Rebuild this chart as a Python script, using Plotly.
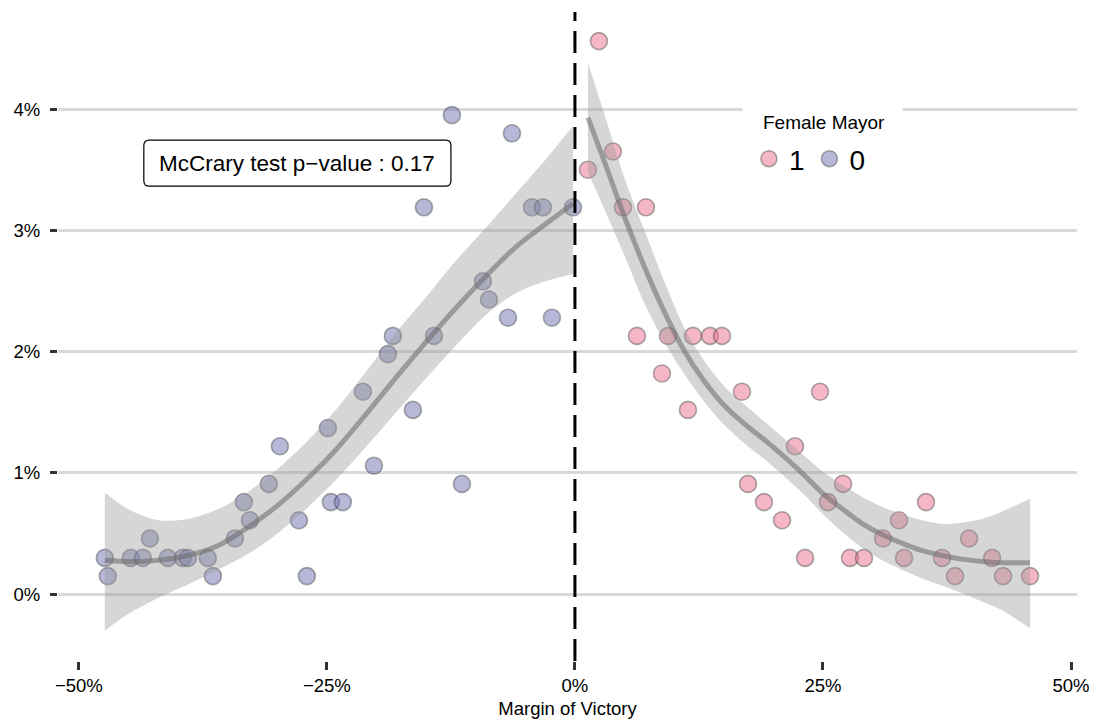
import plotly.graph_objects as go

# ---------------- data ----------------
# Female Mayor = 0 (left of cutoff): margin of victory (%) and density (%)
x_male = [-47.38, -47.08, -44.76, -43.55, -42.84, -41.03, -39.52, -39.01, -37.00, -36.49,
          -34.27, -33.37, -32.76, -30.85, -29.74, -27.82, -27.02, -24.90, -24.60, -23.39,
          -21.37, -20.26, -18.85, -18.35, -16.33, -15.22, -14.21, -12.40, -11.39, -9.27,
          -8.67, -6.75, -6.35, -4.33, -3.23, -2.32, -0.20]
y_male = [0.30, 0.15, 0.30, 0.30, 0.46, 0.30, 0.30, 0.30, 0.30, 0.15,
          0.46, 0.76, 0.61, 0.91, 1.22, 0.61, 0.15, 1.37, 0.76, 0.76,
          1.67, 1.06, 1.98, 2.13, 1.52, 3.19, 2.13, 3.95, 0.91, 2.58,
          2.43, 2.28, 3.80, 3.19, 3.19, 2.28, 3.19]

# Female Mayor = 1 (right of cutoff)
x_female = [1.31, 2.42, 3.83, 4.84, 6.25, 7.16, 8.77, 9.38, 11.39, 11.90,
            13.61, 14.82, 16.83, 17.44, 19.05, 20.87, 22.18, 23.19, 24.70, 25.50,
            27.02, 27.72, 29.13, 31.05, 32.66, 33.17, 35.38, 37.00, 38.31, 39.72,
            42.04, 43.15, 45.87]
y_female = [3.50, 4.56, 3.65, 3.19, 2.13, 3.19, 1.82, 2.13, 1.52, 2.13,
            2.13, 2.13, 1.67, 0.91, 0.76, 0.61, 1.22, 0.30, 1.67, 0.76,
            0.91, 0.30, 0.30, 0.46, 0.61, 0.30, 0.76, 0.30, 0.15, 0.46,
            0.30, 0.15, 0.15]

# smoothed fit with confidence band, left side
fit_l_x = [-47.38, -45, -42, -39, -36, -33, -30, -27, -24, -21, -18, -15, -12, -9, -6, -3, -0.2]
fit_l_y = [0.28, 0.27, 0.28, 0.32, 0.40, 0.55, 0.73, 0.95, 1.20, 1.49, 1.79, 2.08, 2.36, 2.62, 2.86, 3.05, 3.22]
fit_l_hi = [0.84, 0.70, 0.61, 0.62, 0.70, 0.84, 1.03, 1.26, 1.53, 1.84, 2.16, 2.45, 2.75, 3.02, 3.30, 3.58, 3.86]
fit_l_lo = [-0.30, -0.16, -0.03, 0.08, 0.20, 0.33, 0.50, 0.71, 0.95, 1.22, 1.50, 1.78, 2.05, 2.30, 2.48, 2.58, 2.64]

# smoothed fit with confidence band, right side
fit_r_x = [1.31, 3, 5, 7, 9, 11, 13, 15, 17, 19, 21, 23, 25, 27, 29, 31, 33, 35, 37, 39, 41, 43, 45.87]
fit_r_y = [3.93, 3.56, 3.11, 2.70, 2.33, 2.01, 1.76, 1.56, 1.41, 1.28, 1.14, 0.99, 0.83, 0.70, 0.58, 0.49, 0.42, 0.36, 0.32, 0.29, 0.27, 0.26, 0.26]
fit_r_hi = [4.38, 3.95, 3.43, 3.00, 2.58, 2.20, 1.93, 1.72, 1.57, 1.43, 1.29, 1.15, 1.01, 0.90, 0.80, 0.72, 0.66, 0.61, 0.58, 0.59, 0.62, 0.68, 0.79]
fit_r_lo = [3.48, 3.17, 2.79, 2.40, 2.08, 1.82, 1.59, 1.40, 1.25, 1.12, 0.98, 0.83, 0.66, 0.51, 0.38, 0.28, 0.20, 0.13, 0.07, 0.01, -0.06, -0.13, -0.28]

x_ticks = [-50, -25, 0, 25, 50]
x_ticktext = ["\u221250%", "\u221225%", "0%", "25%", "50%"]
y_ticks = [0, 1, 2, 3, 4]
y_ticktext = ["0%", "1%", "2%", "3%", "4%"]

annotation_text = "McCrary test p\u2212value : 0.17"
legend_title = "Female Mayor"

# ---------------- styles ----------------
FONT = "Liberation Sans, Arial, Helvetica, sans-serif"
PINK = "rgba(236,112,142,0.5)"
BLUE = "rgba(112,114,178,0.5)"
OUTLINE = "rgba(70,70,70,0.45)"
RIBBON = "rgba(153,153,153,0.4)"
FITLINE = "rgba(105,105,105,0.55)"

fig = go.Figure()

# points
fig.add_trace(go.Scatter(x=x_female, y=y_female, mode="markers", name="1",
                         marker=dict(size=17, color=PINK, line=dict(color=OUTLINE, width=1.6))))
fig.add_trace(go.Scatter(x=x_male, y=y_male, mode="markers", name="0",
                         marker=dict(size=17, color=BLUE, line=dict(color=OUTLINE, width=1.6))))

# ribbons + fit lines
for xs, lo, hi, fy in [(fit_l_x, fit_l_lo, fit_l_hi, fit_l_y), (fit_r_x, fit_r_lo, fit_r_hi, fit_r_y)]:
    fig.add_trace(go.Scatter(x=xs, y=lo, mode="lines",
                             line=dict(width=0, shape="spline", smoothing=0.8),
                             hoverinfo="skip", showlegend=False))
    fig.add_trace(go.Scatter(x=xs, y=hi, mode="lines", fill="tonexty", fillcolor=RIBBON,
                             line=dict(width=0, shape="spline", smoothing=0.8),
                             hoverinfo="skip", showlegend=False))
    fig.add_trace(go.Scatter(x=xs, y=fy, mode="lines",
                             line=dict(color=FITLINE, width=5, shape="spline", smoothing=0.8),
                             hoverinfo="skip", showlegend=False))

# dashed cutoff line
fig.add_shape(type="line", xref="x", yref="paper", x0=0, x1=0, y0=0, y1=1,
              line=dict(color="black", width=3, dash="22px,10px"))

# rounded annotation box
bx0, bx1, by0, by1 = -43.45, -12.5, 3.364, 3.744
rx, ry = 0.55, 0.045
path = (f"M {bx0+rx},{by0} L {bx1-rx},{by0} Q {bx1},{by0} {bx1},{by0+ry} "
        f"L {bx1},{by1-ry} Q {bx1},{by1} {bx1-rx},{by1} L {bx0+rx},{by1} "
        f"Q {bx0},{by1} {bx0},{by1-ry} L {bx0},{by0+ry} Q {bx0},{by0} {bx0+rx},{by0} Z")
fig.add_shape(type="path", path=path, xref="x", yref="y",
              line=dict(color="black", width=1.2), fillcolor="white")
fig.add_annotation(x=(bx0 + bx1) / 2, y=(by0 + by1) / 2, xref="x", yref="y",
                   text=annotation_text, showarrow=False,
                   font=dict(family=FONT, size=22.5, color="black"))

# legend backdrop (hides the gridline behind the legend) and title
fig.add_shape(type="rect", xref="paper", yref="paper", x0=0.672, x1=0.829, y0=0.80, y1=0.865,
              line=dict(width=0), fillcolor="white", layer="above")
fig.add_annotation(x=0.690, y=0.829, xref="paper", yref="paper", xanchor="left", yanchor="middle",
                   text=legend_title, showarrow=False,
                   font=dict(family=FONT, size=19, color="black"))

fig.update_layout(
    width=1097, height=722,
    margin=dict(l=50, r=28, t=4, b=69),
    paper_bgcolor="white", plot_bgcolor="white",
    font=dict(family=FONT, size=18.5, color="black"),
    legend=dict(orientation="h", x=0.678, y=0.7735, xanchor="left", yanchor="middle",
                traceorder="normal",
                bgcolor="rgba(255,255,255,0)", font=dict(family=FONT, size=28, color="black"),
                tracegroupgap=0, itemwidth=30),
    xaxis=dict(range=[-52.1, 50.6], tickvals=x_ticks, ticktext=x_ticktext,
               ticks="outside", ticklen=8, tickwidth=2.5, tickcolor="#333333",
               showgrid=False, zeroline=False, showline=False,
               tickfont=dict(family=FONT, size=18.5, color="black"),
               title=dict(text="Margin of Victory", standoff=6,
                          font=dict(family=FONT, size=18.5, color="black"))),
    yaxis=dict(range=[-0.55, 4.80], tickvals=y_ticks, ticktext=y_ticktext,
               ticks="outside", ticklen=7, tickwidth=3, tickcolor="#333333",
               showgrid=True, gridcolor="#d9d9d9", gridwidth=2.5,
               zeroline=False, showline=False, ticklabelstandoff=6,
               tickfont=dict(family=FONT, size=18.5, color="black")),
    showlegend=True,
)

fig.write_html("out.html")
